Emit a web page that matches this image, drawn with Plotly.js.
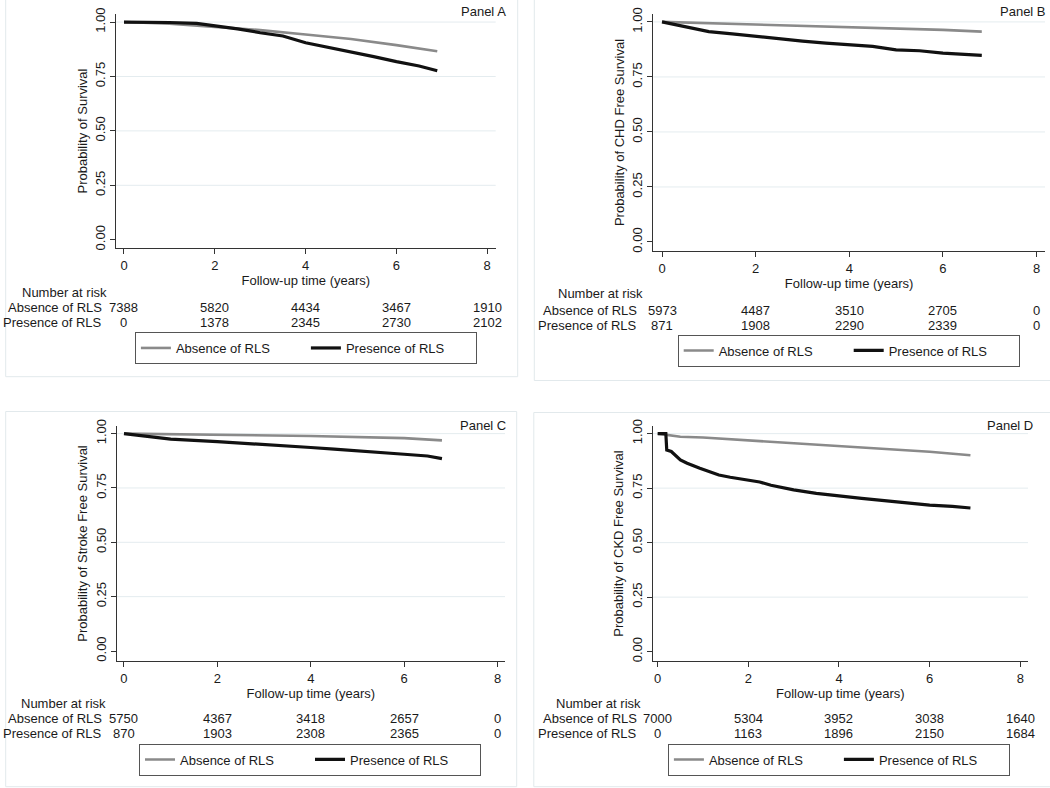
<!DOCTYPE html>
<html>
<head>
<meta charset="utf-8">
<script src="https://cdn.plot.ly/plotly-3.0.1.min.js"></script>
<style>html,body{margin:0;padding:0;background:#fff;}#chart{width:1050px;height:788px;}</style>
</head>
<body>
<div id="chart"></div>
<script>
// ---------------- DATA ----------------
const seriesNames = ['Absence of RLS', 'Presence of RLS'];
const riskTimes = [0, 2, 4, 6, 8];
const yTicks = [0, 0.25, 0.5, 0.75, 1];
const xTicks = [0, 2, 4, 6, 8];

// Panel A: overall survival
const tA_abs = [0, 1, 2, 3, 4, 5, 6, 6.9];
const sA_abs = [1.0, 0.993, 0.978, 0.963, 0.943, 0.922, 0.894, 0.866];
const tA_pres = [0, 0.5, 1, 1.6, 2, 2.5, 3, 3.5, 4, 4.5, 5, 5.5, 6, 6.5, 6.9];
const sA_pres = [1.0, 1.0, 0.998, 0.994, 0.983, 0.969, 0.951, 0.936, 0.905, 0.884, 0.864, 0.841, 0.818, 0.798, 0.776];
const riskA_abs = [7388, 5820, 4434, 3467, 1910];
const riskA_pres = [0, 1378, 2345, 2730, 2102];

// Panel B: CHD free survival
const tB_abs = [0, 2, 4, 6, 6.83];
const sB_abs = [1.0, 0.989, 0.976, 0.964, 0.956];
const tB_pres = [0, 0.5, 1, 1.5, 2, 2.5, 3, 3.5, 4, 4.5, 5, 5.5, 6, 6.5, 6.83];
const sB_pres = [1.0, 0.979, 0.956, 0.946, 0.934, 0.923, 0.913, 0.904, 0.898, 0.889, 0.873, 0.869, 0.858, 0.854, 0.848];
const riskB_abs = [5973, 4487, 3510, 2705, 0];
const riskB_pres = [871, 1908, 2290, 2339, 0];

// Panel C: Stroke free survival
const tC_abs = [0, 2, 4, 6, 6.81];
const sC_abs = [1.0, 0.995, 0.989, 0.979, 0.969];
const tC_pres = [0, 0.5, 1, 2, 3, 4, 4.5, 5, 5.5, 6, 6.5, 6.81];
const sC_pres = [1.0, 0.986, 0.975, 0.963, 0.951, 0.936, 0.929, 0.920, 0.913, 0.905, 0.897, 0.885];
const riskC_abs = [5750, 4367, 3418, 2657, 0];
const riskC_pres = [870, 1903, 2308, 2365, 0];

// Panel D: CKD free survival
const tD_abs = [0, 0.5, 1, 2, 3, 4, 5, 6, 6.9];
const sD_abs = [1.0, 0.986, 0.982, 0.969, 0.956, 0.943, 0.933, 0.917, 0.901];
const tD_pres = [0, 0.18, 0.2, 0.3, 0.5, 0.65, 0.93, 1.15, 1.35, 1.6, 2, 2.25, 2.5, 2.75, 3, 3.5, 4, 4.5, 5, 5.5, 6, 6.5, 6.9];
const sD_pres = [1.0, 1.0, 0.925, 0.918, 0.879, 0.864, 0.841, 0.826, 0.81, 0.8, 0.787, 0.778, 0.763, 0.752, 0.742, 0.726, 0.713, 0.703, 0.693, 0.681, 0.672, 0.666, 0.659];
const riskD_abs = [7000, 5304, 3952, 3038, 1640];
const riskD_pres = [0, 1163, 1896, 2150, 1684];

const panelLabels = ['Panel A', 'Panel B', 'Panel C', 'Panel D'];
const yTitles = ['Probability of Survival', 'Probability of CHD Free Survival', 'Probability of Stroke Free Survival', 'Probability of CKD Free Survival'];
const xTitle = 'Follow-up time (years)';
const riskHeader = 'Number at risk';

// ---------------- LAYOUT HELPERS ----------------
const W = 1050, H = 788;
const px = v => v / W;
const py = v => 1 - v / H;
const FONT = '"Liberation Sans", Arial, Helvetica, sans-serif';
const TXT = '#1a1a1a';
const GRAY = '#8a8a8a', BLACK = '#111111';
const GRID = '#e4ecef', FRAME = '#e2e9ec';

const panels = [
  {t:[tA_abs,tA_pres], s:[sA_abs,sA_pres], r:[riskA_abs,riskA_pres],
   xd:[116,495.7], yd:[14,248], xr:[-0.176,8.187], yr:[-0.038,1.037],
   rows:[292,307.7,322.7], hdrX:64, lblR:103.5, leg:[305.9,332], plab:[508,11], frame:[5.7,-3,517.7,376.7]},
  {t:[tB_abs,tB_pres], s:[sB_abs,sB_pres], r:[riskB_abs,riskB_pres],
   xd:[653.3,1045], yd:[14,251], xr:[-0.186,8.18], yr:[-0.041,1.036],
   rows:[294,310,325.7], hdrX:600, lblR:639.3, leg:[848.7,334.5], plab:[1048,11], frame:[534.3,-3,1053,380.5]},
  {t:[tC_abs,tC_pres], s:[sC_abs,sC_pres], r:[riskC_abs,riskC_pres],
   xd:[116.7,505], yd:[426,661], xr:[-0.156,8.16], yr:[-0.046,1.035],
   rows:[703,718,733], hdrX:63.8, lblR:104, leg:[310,743.5], plab:[507.7,425], frame:[5.7,411.5,516.7,786.7]},
  {t:[tD_abs,tD_pres], s:[sD_abs,sD_pres], r:[riskD_abs,riskD_pres],
   xd:[652.7,1028], yd:[426,661], xr:[-0.11,8.17], yr:[-0.043,1.035],
   rows:[703,718,733], hdrX:598.3, lblR:639.3, leg:[838.9,743.5], plab:[1035,425], frame:[533.8,412.5,1053,786.7]}
];

const traces = [];
const layout = {
  width: W, height: H,
  margin: {l:0, r:0, t:0, b:0},
  paper_bgcolor: '#ffffff', plot_bgcolor: 'rgba(0,0,0,0)',
  font: {family: FONT, size: 13, color: TXT},
  showlegend: true,
  annotations: [], shapes: []
};

panels.forEach((p, i) => {
  const k = i === 0 ? '' : String(i + 1);
  const xa = 'x' + k, ya = 'y' + k;
  const legName = i === 0 ? 'legend' : 'legend' + (i + 1);
  const colors = [GRAY, BLACK];
  const widths = [2.6, 3.2];
  for (let j = 0; j < 2; j++) {
    traces.push({
      type: 'scatter', mode: 'lines',
      x: p.t[j], y: p.s[j],
      xaxis: xa, yaxis: ya,
      name: seriesNames[j],
      legend: legName,
      line: {color: colors[j], width: widths[j], shape: 'linear'},
      hoverinfo: 'skip'
    });
  }
  layout['xaxis' + k] = {
    domain: [px(p.xd[0]), px(p.xd[1])],
    range: p.xr, anchor: ya,
    tickmode: 'array', tickvals: xTicks, ticktext: xTicks.map(String),
    ticks: 'outside', ticklen: 5, tickwidth: 1, tickcolor: '#333',
    showline: true, linecolor: '#333', linewidth: 1,
    showgrid: false, zeroline: false,
    tickfont: {size: 13, color: TXT, family: FONT},
    title: {text: xTitle, font: {size: 13, color: TXT, family: FONT}, standoff: 0},
    fixedrange: true
  };
  layout['yaxis' + k] = {
    domain: [py(p.yd[1]), py(p.yd[0])],
    range: p.yr, anchor: xa,
    tickmode: 'array', tickvals: yTicks, ticktext: yTicks.map(v => v.toFixed(2)),
    tickangle: -90,
    ticks: 'outside', ticklen: 5, tickwidth: 1, tickcolor: '#333',
    showline: true, linecolor: '#333', linewidth: 1,
    showgrid: false, zeroline: false,
    tickfont: {size: 13, color: TXT, family: FONT},
    title: {text: yTitles[i], font: {size: 13, color: TXT, family: FONT}, standoff: 2},
    fixedrange: true
  };
  // gridlines at non-zero y ticks
  yTicks.filter(v => v > 0).forEach(v => {
    layout.shapes.push({type: 'line', xref: xa + ' domain', yref: ya, x0: 0, x1: 1, y0: v, y1: v,
      line: {color: GRID, width: 1}, layer: 'below'});
  });
  // panel frame
  layout.shapes.push({type: 'rect', xref: 'paper', yref: 'paper',
    x0: px(p.frame[0]), x1: px(p.frame[2]), y0: py(p.frame[3]), y1: py(p.frame[1]),
    line: {color: FRAME, width: 1}, fillcolor: 'rgba(0,0,0,0)', layer: 'below'});
  // panel label
  layout.annotations.push({text: panelLabels[i], xref: 'paper', yref: 'paper',
    x: px(p.plab[0]), y: py(p.plab[1]), xanchor: 'right', yanchor: 'middle', showarrow: false,
    font: {size: 13, color: TXT}});
  // number at risk table
  layout.annotations.push({text: riskHeader, xref: 'paper', yref: 'paper',
    x: px(p.hdrX), y: py(p.rows[0]), xanchor: 'center', yanchor: 'middle', showarrow: false,
    font: {size: 13, color: TXT}});
  for (let j = 0; j < 2; j++) {
    layout.annotations.push({text: seriesNames[j], xref: 'paper', yref: 'paper',
      x: px(p.lblR), y: py(p.rows[j + 1]), xanchor: 'right', yanchor: 'middle', showarrow: false,
      font: {size: 13, color: TXT}});
    riskTimes.forEach((tv, m) => {
      layout.annotations.push({text: String(p.r[j][m]), xref: xa, yref: 'paper',
        x: tv, y: py(p.rows[j + 1]), xanchor: 'center', yanchor: 'middle', showarrow: false,
        font: {size: 13, color: TXT}});
    });
  }
  // legend
  layout[legName] = {
    orientation: 'h', x: px(p.leg[0]), y: py(p.leg[1]), xanchor: 'center', yanchor: 'top',
    xref: 'paper', yref: 'paper',
    bordercolor: '#555', borderwidth: 1, bgcolor: '#ffffff',
    entrywidth: 125, entrywidthmode: 'pixels',
    font: {size: 13, color: TXT, family: FONT},
    traceorder: 'normal', itemclick: false, itemdoubleclick: false
  };
});

Plotly.newPlot('chart', traces, layout, {displayModeBar: false, staticPlot: true});
</script>
</body>
</html>
